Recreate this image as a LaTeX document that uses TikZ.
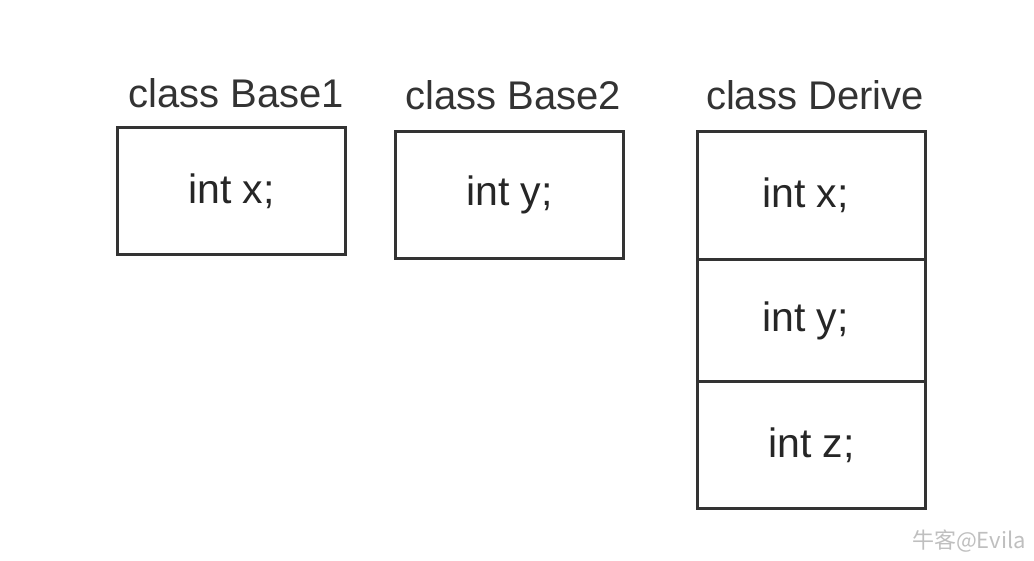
\documentclass[tikz,border=0pt]{standalone}
\usepackage{fontspec}
\setmainfont{Liberation Sans}
\newfontfamily\cjk{Noto Sans CJK SC}
\begin{document}
\begin{tikzpicture}[x=1pt,y=-1pt,
  cell/.style={draw=black!80,line width=3pt,minimum width=228pt,inner sep=0pt,anchor=north west,text=black!85,font=\fontsize{41}{44}\selectfont},
  title/.style={text=black!80,font=\fontsize{40}{44}\selectfont,inner sep=0pt}]
\useasboundingbox (0,0) rectangle (1034,560);
\node[cell,minimum height=127pt] (b1) at (116,126) {int x;};
\node[cell,minimum height=127pt] (b2) at (394,130) {int y;};
\node[cell,minimum height=128pt] (d1) at (696,130) {int x;\kern12pt};
\node[cell,minimum height=122pt] (d2) at (696,258) {int y;\kern12pt};
\node[cell,minimum height=127pt] (d3) at (696,380) {int z;};
\node[title] (t1) at (236,93) {class Base1};
\node[title] (t2) at (513,95) {class Base2};
\node[title] (t3) at (815,95) {class Derive};
\node[text=black!25,font=\cjk\fontsize{22}{24}\selectfont,anchor=east,inner sep=0pt] (wm) at (1026,541) {牛客@Evila};
\end{tikzpicture}
\end{document}
